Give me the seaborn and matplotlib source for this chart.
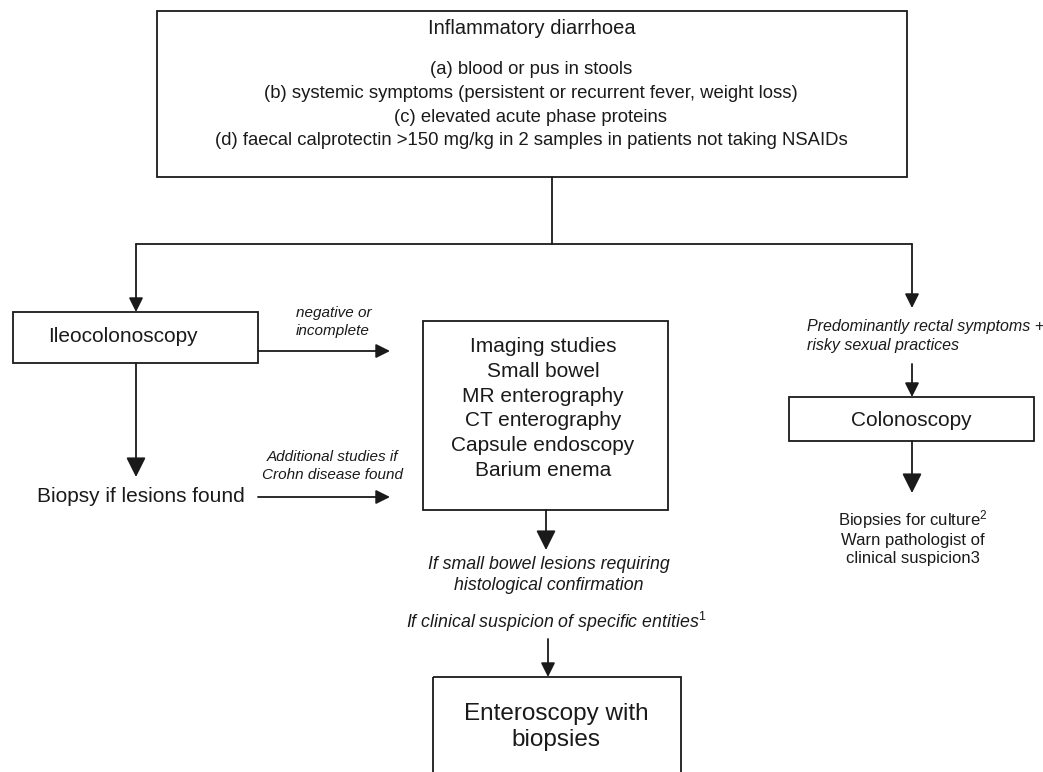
import matplotlib
matplotlib.use("Agg")
import matplotlib.pyplot as plt
import seaborn as sns
from matplotlib.patches import Rectangle

# node texts
top_title = "Inflammatory diarrhoea"
top_items = ["(a) blood or pus in stools",
             "(b) systemic symptoms (persistent or recurrent fever, weight loss)",
             "(c) elevated acute phase proteins",
             "(d) faecal calprotectin >150 mg/kg in 2 samples in patients not taking NSAIDs"]
ileo_text = "Ileocolonoscopy"
imaging_lines = ["Imaging studies", "Small bowel", "MR enterography",
                 "CT enterography", "Capsule endoscopy", "Barium enema"]
colono_text = "Colonoscopy"
biopsy_text = "Biopsy if lesions found"
entero_text = "Enteroscopy with\nbiopsies"
negative_label = "negative or\nincomplete"
additional_label = "Additional studies if\nCrohn disease found"
rectal_label = "Predominantly rectal symptoms +\nrisky sexual practices"
small_bowel_label = "If small bowel lesions requiring\nhistological confirmation"
clinical_label = r"If clinical suspicion of specific entities$^{\mathit{1}}$"
biopsies_culture = r"Biopsies for culture$^{2}$" + "\nWarn pathologist of\nclinical suspicion3"

sns.set_theme(style="white")
plt.rcParams['font.family'] = ['Liberation Sans', 'DejaVu Sans']
plt.rcParams['mathtext.fontset'] = 'custom'
plt.rcParams['mathtext.rm'] = 'Liberation Sans'
plt.rcParams['mathtext.it'] = 'Liberation Sans:italic'

fig = plt.figure(figsize=(10.43, 7.72), dpi=100)
ax = fig.add_axes([0, 0, 1, 1])
ax.set_xlim(0, 1043)
ax.set_ylim(772, 0)
ax.axis("off")

LW = 1.3
INK = "#1a1a1a"


def box(x0, y0, x1, y1):
    ax.add_patch(Rectangle((x0, y0), x1 - x0, y1 - y0, fill=False,
                           edgecolor=INK, lw=LW))


def arrow(x0, y0, x1, y1, big=False):
    ms = 24 if big else 17
    ax.annotate("", xy=(x1, y1), xytext=(x0, y0),
                arrowprops=dict(arrowstyle="-|>,head_length=0.5,head_width=0.25",
                                mutation_scale=ms, lw=LW, color=INK,
                                shrinkA=0, shrinkB=0))


# top box
box(157, 11, 907, 177)
ax.text(532, 29, top_title, ha="center", va="center", fontsize=14.5, color=INK)
for i, t in enumerate(top_items):
    ax.text(531, 70 + i * 23.5, t, ha="center", va="center", fontsize=13.3,
            color=INK)

# connector
ax.plot([552, 552], [177, 244], color=INK, lw=LW)
ax.plot([136, 912], [244, 244], color=INK, lw=LW)
arrow(136, 244, 136, 312)
arrow(912, 244, 912, 308)

# ileocolonoscopy
box(13, 312, 258, 363)
ax.text(48, 336, ileo_text, ha="left", va="center", fontsize=15, color=INK)
arrow(258, 351, 390, 351)
ax.text(296, 322, negative_label, ha="left", va="center", fontsize=11,
        style="italic", linespacing=1.3, color=INK)
arrow(136, 363, 136, 477, big=True)
ax.text(37, 497, biopsy_text, ha="left", va="center", fontsize=15, color=INK)
arrow(258, 497, 390, 497)
ax.text(333, 466, additional_label, ha="center", va="center", fontsize=11,
        style="italic", linespacing=1.3, color=INK)

# imaging studies
box(423, 321, 668, 510)
for i, t in enumerate(imaging_lines):
    ax.text(543, 347 + i * 24.6, t, ha="center", va="center", fontsize=15,
            color=INK)
arrow(546, 510, 546, 550, big=True)
ax.text(549, 575, small_bowel_label, ha="center", va="center", fontsize=12.8,
        style="italic", linespacing=1.25, color=INK)
ax.text(556, 622, clinical_label, ha="center", va="center", fontsize=12.8,
        style="italic", color=INK)
arrow(548, 639, 548, 677)
box(433, 677, 681, 790)
ax.text(556, 727, entero_text, ha="center", va="center", fontsize=17.5,
        linespacing=1.2, color=INK)

# right branch
ax.text(807, 336, rectal_label, ha="left", va="center", fontsize=11.5,
        style="italic", linespacing=1.3, color=INK)
arrow(912, 364, 912, 397)
box(789, 397, 1034, 441)
ax.text(911, 420, colono_text, ha="center", va="center", fontsize=15, color=INK)
arrow(912, 441, 912, 493, big=True)
ax.text(913, 537, biopsies_culture, ha="center", va="center", fontsize=12,
        linespacing=1.2, color=INK)

fig.savefig("out.png", dpi=100)
